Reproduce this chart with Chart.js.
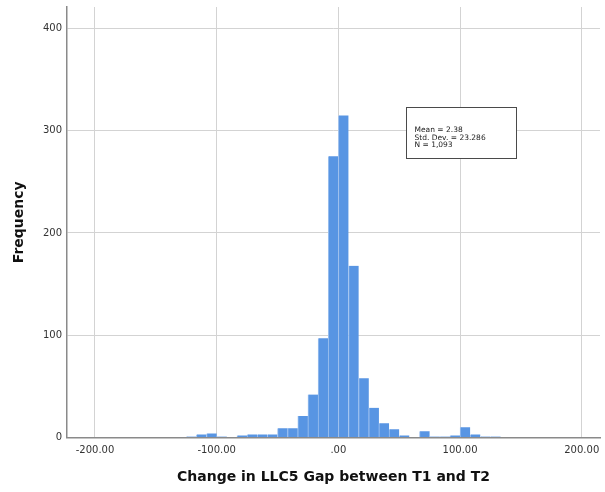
<!DOCTYPE html>
<html>
<head>
<meta charset="utf-8">
<script src="https://cdn.jsdelivr.net/npm/chart.js@4/dist/chart.umd.min.js"></script>
<style>
  html, body { margin: 0; padding: 0; background: #ffffff; }
  #wrap { width: 605px; height: 492px; position: relative; }
</style>
</head>
<body>
<div id="wrap"><canvas id="c" width="605" height="492"></canvas></div>
<script>
// Bin centres (bin width 8.333) and frequencies
const binCenters = [-120.83, -112.5, -104.17, -95.83, -87.5, -79.17, -70.83, -62.5, -54.17, -45.83,
                    -37.5, -29.17, -20.83, -12.5, -4.17, 4.17, 12.5, 20.83, 29.17, 37.5,
                    45.83, 54.17, 62.5, 70.83, 79.17, 87.5, 95.83, 104.17, 112.5, 120.83, 129.17];
const frequencies = [1, 3, 4, 1, 0, 2, 3, 3, 3, 9,
                     9, 21, 42, 97, 275, 315, 168, 58, 29, 14,
                     8, 2, 0, 6, 1, 1, 2, 10, 3, 1, 1];
const xTicks = [-200, -100, 0, 100, 200];
const yTicks = [0, 100, 200, 300, 400];
const statsLines = ["Mean = 2.38", "Std. Dev. = 23.286", "N = 1,093"];
const xTitle = "Change in LLC5 Gap between T1 and T2";
const yTitle = "Frequency";

const fmtX = v => {
  if (v === 0) return ".00";
  return v.toFixed(2);
};

const statsBox = {
  id: 'statsBox',
  afterDatasetsDraw(chart) {
    const ctx = chart.ctx;
    const xs = chart.scales.x, ys = chart.scales.y;
    const x0 = Math.round(xs.getPixelForValue(55.7)) + 0.5;
    const x1 = Math.round(xs.getPixelForValue(146)) + 0.5;
    const y0 = Math.round(ys.getPixelForValue(323)) + 0.5;
    const y1 = Math.round(ys.getPixelForValue(273)) + 0.5;
    ctx.save();
    ctx.fillStyle = '#ffffff';
    ctx.fillRect(x0, y0, x1 - x0, y1 - y0);
    ctx.strokeStyle = '#4a4a4a';
    ctx.lineWidth = 1;
    ctx.strokeRect(x0, y0, x1 - x0, y1 - y0);
    ctx.fillStyle = '#222222';
    ctx.font = '7.5px "DejaVu Sans", sans-serif';
    ctx.textBaseline = 'middle';
    statsLines.forEach((t, i) => {
      ctx.fillText(t, x0 + 8, y0 + 22.5 + i * 7.6);
    });
    ctx.restore();
  }
};

new Chart(document.getElementById('c'), {
  type: 'bar',
  data: {
    datasets: [{
      data: binCenters.map((c, i) => ({ x: c, y: frequencies[i] })),
      backgroundColor: '#5895e3',
      borderColor: '#9cc0ef',
      borderWidth: { left: 1, right: 0, top: 0, bottom: 0 },
      borderSkipped: false,
      barPercentage: 1.0,
      categoryPercentage: 1.0
    }]
  },
  options: {
    responsive: false,
    animation: false,
    devicePixelRatio: 1,
    layout: { padding: { left: 0, right: 5, top: 7, bottom: 0 } },
    plugins: {
      legend: { display: false },
      tooltip: { enabled: false }
    },
    scales: {
      x: {
        type: 'linear',
        min: -223,
        max: 215,
        offset: false,
        afterBuildTicks: s => { s.ticks = xTicks.map(v => ({ value: v })); },
        afterFit: s => { s.height = 54.5; s.paddingLeft = 0; s.paddingRight = 0; },
        grid: { offset: false, color: '#d3d3d3', lineWidth: 1, drawTicks: false },
        border: { color: '#8a8a8a', width: 1.5 },
        ticks: {
          callback: v => fmtX(v),
          color: '#333333',
          font: { family: '"DejaVu Sans", sans-serif', size: 10 },
          padding: 7,
          maxRotation: 0,
          autoSkip: false
        },
        title: {
          display: true,
          text: xTitle,
          color: '#111111',
          font: { family: '"DejaVu Sans", sans-serif', size: 14, weight: 'bold' },
          padding: { top: 0, bottom: 6 }
        }
      },
      y: {
        min: 0,
        max: 421,
        afterBuildTicks: s => { s.ticks = yTicks.map(v => ({ value: v })); },
        afterFit: s => { s.width = 67; s.paddingTop = 0; s.paddingBottom = 0; },
        grid: { color: '#d3d3d3', lineWidth: 1, drawTicks: false },
        border: { color: '#8a8a8a', width: 1.5 },
        ticks: {
          color: '#333333',
          font: { family: '"DejaVu Sans", sans-serif', size: 10 },
          padding: 5
        },
        title: {
          display: true,
          text: yTitle,
          color: '#111111',
          font: { family: '"DejaVu Sans", sans-serif', size: 14, weight: 'bold' },
          padding: { top: 11, bottom: 0 }
        }
      }
    }
  },
  plugins: [statsBox]
});
</script>
</body>
</html>
